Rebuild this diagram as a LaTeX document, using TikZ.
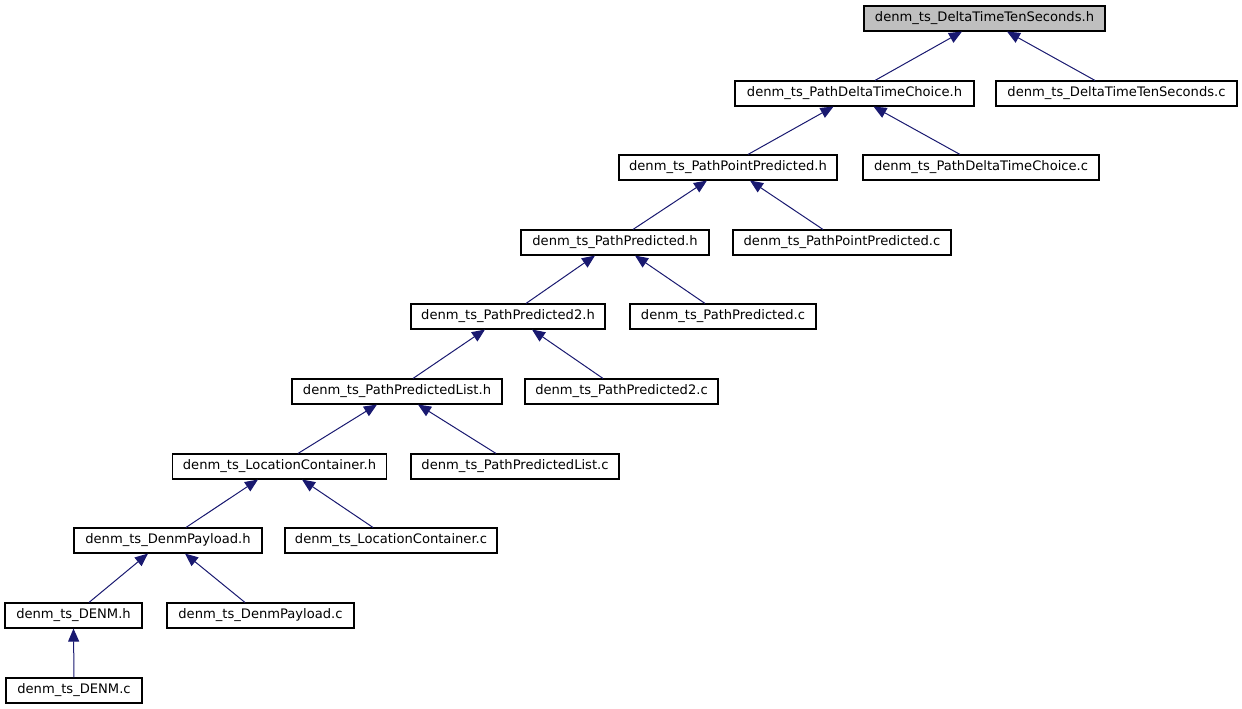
\documentclass[tikz,border=0pt]{standalone}
\usepackage{fontspec}
\setmainfont{DejaVu Sans}
\usetikzlibrary{arrows.meta}
\definecolor{edgeblue}{HTML}{191970}
\definecolor{hlgray}{HTML}{BFBFBF}
\tikzset{
  filebox/.style={draw=black, line width=1.1pt, fill=white, rectangle, inner sep=0pt,
    minimum height=25pt, font=\fontsize{13.1}{15}\selectfont, text=black},
  topbox/.style={filebox, fill=hlgray},
  dep/.style={draw=edgeblue, line width=1pt, {Triangle[length=13pt,width=11pt,fill=edgeblue]}-}
}
\begin{document}
\begin{tikzpicture}[x=1pt,y=-1pt]
\useasboundingbox (0,0) rectangle (1242,709);
\node[topbox, minimum width=241pt] (n1) at (984.5,18.5) {denm\_ts\_DeltaTimeTenSeconds.h};
\node[filebox, minimum width=239pt] (n2) at (854.5,93.5) {denm\_ts\_PathDeltaTimeChoice.h};
\node[filebox, minimum width=241pt] (n3) at (1116.5,93.5) {denm\_ts\_DeltaTimeTenSeconds.c};
\node[filebox, minimum width=218pt] (n4) at (728,167.5) {denm\_ts\_PathPointPredicted.h};
\node[filebox, minimum width=236pt] (n5) at (981,167.5) {denm\_ts\_PathDeltaTimeChoice.c};
\node[filebox, minimum width=188pt] (n6) at (615,242.5) {denm\_ts\_PathPredicted.h};
\node[filebox, minimum width=218pt] (n7) at (842,242.5) {denm\_ts\_PathPointPredicted.c};
\node[filebox, minimum width=194pt] (n8) at (508,316.5) {denm\_ts\_PathPredicted2.h};
\node[filebox, minimum width=186pt] (n9) at (723,316.5) {denm\_ts\_PathPredicted.c};
\node[filebox, minimum width=210pt] (n10) at (397,391.5) {denm\_ts\_PathPredictedList.h};
\node[filebox, minimum width=193pt] (n18) at (621.5,391.5) {denm\_ts\_PathPredicted2.c};
\node[filebox, minimum width=208pt] (n11) at (515,466.5) {denm\_ts\_PathPredictedList.c};
\node[filebox, minimum width=214pt] (n12) at (279.5,466.5) {denm\_ts\_LocationContainer.h};
\node[filebox, minimum width=188pt] (n13) at (168,540.5) {denm\_ts\_DenmPayload.h};
\node[filebox, minimum width=212pt] (n14) at (391,540.5) {denm\_ts\_LocationContainer.c};
\node[filebox, minimum width=137pt] (n15) at (73.5,615.5) {denm\_ts\_DENM.h};
\node[filebox, minimum width=187pt] (n16) at (260.5,615.5) {denm\_ts\_DenmPayload.c};
\node[filebox, minimum width=136pt] (n17) at (74,690.5) {denm\_ts\_DENM.c};

\draw[dep] ([xshift=-22.5pt]n1.south) -- ([xshift=20.5pt]n2.north);
\draw[dep] ([xshift=22.5pt]n1.south) -- ([xshift=-21.5pt]n3.north);
\draw[dep] ([xshift=-21pt]n2.south) -- ([xshift=20pt]n4.north);
\draw[dep] ([xshift=19pt]n2.south) -- ([xshift=-21pt]n5.north);
\draw[dep] ([xshift=-21pt]n4.south) -- ([xshift=18pt]n6.north);
\draw[dep] ([xshift=22pt]n4.south) -- ([xshift=-19pt]n7.north);
\draw[dep] ([xshift=-20pt]n6.south) -- ([xshift=18pt]n8.north);
\draw[dep] ([xshift=20pt]n6.south) -- ([xshift=-18pt]n9.north);
\draw[dep] ([xshift=-23pt]n8.south) -- ([xshift=16pt]n10.north);
\draw[dep] ([xshift=24pt]n8.south) -- ([xshift=-18.5pt]n18.north);
\draw[dep] ([xshift=-20pt]n10.south) -- ([xshift=18.5pt]n12.north);
\draw[dep] ([xshift=21pt]n10.south) -- ([xshift=-19pt]n11.north);
\draw[dep] ([xshift=-21.5pt]n12.south) -- ([xshift=18pt]n13.north);
\draw[dep] ([xshift=22.5pt]n12.south) -- ([xshift=-18pt]n14.north);
\draw[dep] ([xshift=-20pt]n13.south) -- ([xshift=15.5pt]n15.north);
\draw[dep] ([xshift=17pt]n13.south) -- ([xshift=-15.5pt]n16.north);
\draw[dep] (n15.south) -- (n17.north);
\end{tikzpicture}
\end{document}
